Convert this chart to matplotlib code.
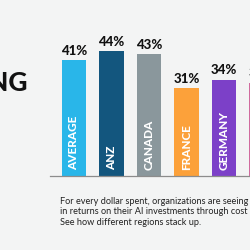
import matplotlib
matplotlib.use('Agg')
import matplotlib.pyplot as plt

regions = ['AVERAGE', 'ANZ', 'CANADA', 'FRANCE', 'GERMANY', 'INDIA']
savings = [41, 44, 43, 31, 34, 33]
colors = ['#29b6e9', '#13567e', '#8a979c', '#fca13a', '#7c40c8', '#d06b9e']
caption = ("For every dollar spent, organizations are seeing\n"
           "in returns on their AI investments through cost\n"
           "See how different regions stack up.")

bg = '#f3f4f4'
fig = plt.figure(figsize=(2.5, 2.5), dpi=100, facecolor=bg)
ax = fig.add_axes([0.2, 0.296, 0.8, 0.566], facecolor=bg)

x = range(len(regions))
ax.bar(x, savings, width=0.653, color=colors)

# value labels on top, region names inside the bars
for xi, v, name in zip(x, savings, regions):
    ax.text(xi, v + 1.2, f'{v}%', ha='center', va='bottom', fontsize=9.5,
            fontweight=900, family='Lato', color='#111111')
    ax.text(xi, 2, name, ha='center', va='bottom', rotation=90, fontsize=8.5,
            fontweight=900, family='Lato', color='white', clip_on=True)

ax.set_xlim(-0.64, 4.693)
ax.set_ylim(0, 50)
for s in ['top', 'right', 'left']:
    ax.spines[s].set_visible(False)
ax.spines['bottom'].set_color('#8c8c8c')
ax.spines['bottom'].set_linewidth(0.9)
ax.set_xticks([])
ax.set_yticks([])

# cropped headline
fig.text(0.112, 0.668, 'NG', ha='right', va='center', fontsize=19,
         fontweight=900, family='Lato', color='#111111')

fig.text(0.24, 0.214, caption, ha='left', va='top', fontsize=6.6,
         family='Lato', color='#222222', linespacing=1.25)

fig.savefig('out.png', dpi=100, facecolor=bg)
